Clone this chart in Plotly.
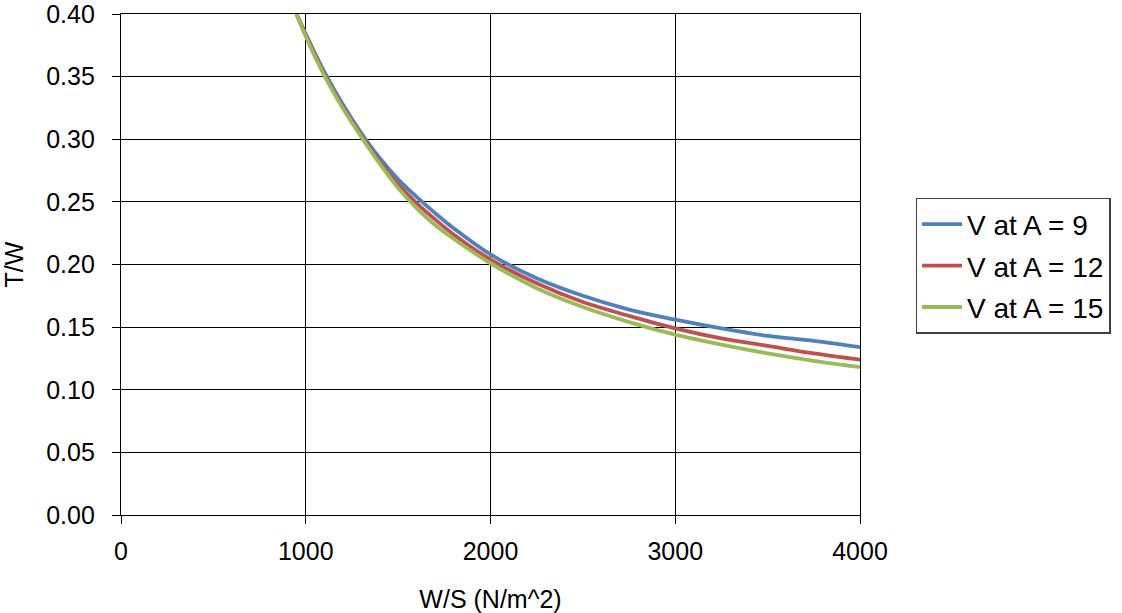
import plotly.graph_objects as go

ws = [950, 1000, 1100, 1200, 1300, 1400, 1500, 1600, 1700, 1800, 2000, 2250, 2500, 2750, 3000, 3250, 3500, 3750, 4000]
tw_a9 = [0.40, 0.384, 0.354, 0.328, 0.305, 0.285, 0.268, 0.254, 0.241, 0.229, 0.208, 0.189, 0.175, 0.164, 0.156, 0.149, 0.143, 0.139, 0.134]
tw_a12 = [0.40, 0.383, 0.352, 0.326, 0.303, 0.282, 0.264, 0.249, 0.236, 0.224, 0.204, 0.185, 0.170, 0.159, 0.149, 0.141, 0.135, 0.129, 0.124]
tw_a15 = [0.40, 0.382, 0.351, 0.325, 0.302, 0.2805, 0.261, 0.245, 0.2315, 0.2205, 0.201, 0.181, 0.166, 0.154, 0.144, 0.136, 0.129, 0.123, 0.118]
names = ["V at A = 9", "V at A = 12", "V at A = 15"]
colors = ["#4F81BD", "#C0504D", "#9BBB59"]

FONT = "Liberation Sans, Arial, sans-serif"
fig = go.Figure()
for i, (ys, nm, c) in enumerate(zip([tw_a9, tw_a12, tw_a15], names, colors)):
    fig.add_trace(go.Scatter(x=ws, y=ys, mode="lines", name=nm, legendgroup=str(i),
                             line=dict(color=c, width=3.8, shape="spline", smoothing=1.0)))

axis_common = dict(showline=True, linecolor="black", linewidth=1.3, mirror=True,
                   showgrid=True, gridcolor="black", gridwidth=1.3,
                   ticks="outside", ticklen=8, tickcolor="black", tickwidth=1.3,
                   tickfont=dict(family=FONT, size=25, color="black"),
                   ticklabeloverflow="allow",
                   zeroline=False, automargin=False)

fig.update_layout(
    width=1122, height=613,
    margin=dict(l=121, r=262, t=14, b=98),
    paper_bgcolor="white", plot_bgcolor="white",
    showlegend=True,
    legend=dict(xref="container", yref="container", x=0.816, xanchor="left", y=0.677, yanchor="top",
                bordercolor="#404040", borderwidth=1.5, bgcolor="white",
                font=dict(family=FONT, size=28, color="black"),
                traceorder="grouped", tracegroupgap=2, itemwidth=40),
    xaxis=dict(range=[0, 4000], tickvals=[0, 1000, 2000, 3000, 4000],
               ticklabelstandoff=6,
               title=dict(text="W/S (N/m^2)", font=dict(family=FONT, size=25, color="black"), standoff=28),
               **axis_common),
    yaxis=dict(range=[0, 0.40], tickvals=[0, 0.05, 0.10, 0.15, 0.20, 0.25, 0.30, 0.35, 0.40],
               tickformat=".2f", ticklabelstandoff=12,
               title=dict(text="T/W", font=dict(family=FONT, size=25, color="black"), standoff=20),
               **axis_common),
)
fig.write_html("out.html", config={"displayModeBar": False},
               post_script="document.body.style.margin='0';document.body.style.padding='0';")
